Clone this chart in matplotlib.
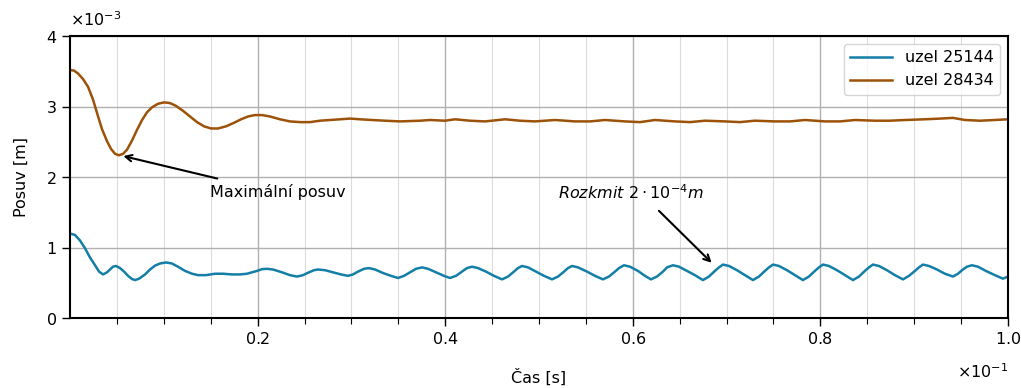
import numpy as np
import matplotlib
matplotlib.use("Agg")
import matplotlib.pyplot as plt
from matplotlib.ticker import ScalarFormatter

# time in ms, displacement in mm
t_25144 = [0.00, 0.53, 1.07, 1.60, 2.13, 2.67, 3.09, 3.52, 3.94, 4.26, 4.58, 4.90,
           5.33, 5.76, 6.18, 6.61, 6.93, 7.36, 8.00, 8.53, 9.06, 9.59, 10.23, 10.87,
           11.51, 12.26, 13.01, 13.65, 14.50, 15.46, 16.31, 17.27, 18.12, 18.87, 19.40,
           19.94, 20.47, 21.00, 21.64, 22.60, 23.45, 24.20, 24.84, 25.48, 26.01, 26.44,
           27.19, 28.04, 28.89, 29.64, 30.17, 30.70, 31.34, 31.88, 32.52, 33.37, 34.22,
           34.97, 35.61, 36.25, 36.89, 37.53, 38.17, 39.02, 39.87, 40.51, 41.15, 41.79,
           42.32, 42.86, 43.50, 44.35, 45.20, 46.06, 46.70, 47.33, 47.76, 48.19, 48.83,
           49.68, 50.53, 51.39, 52.03, 52.67, 53.09, 53.52, 54.16, 55.12, 55.97, 56.82,
           57.46, 58.10, 58.53, 59.06, 59.70, 60.55, 61.30, 61.94, 62.58, 63.22, 63.65,
           64.29, 64.93, 65.78, 66.63, 67.48, 68.12, 68.76, 69.19, 69.62, 70.26, 71.11,
           71.96, 72.81, 73.45, 74.09, 74.52, 74.95, 75.59, 76.44, 77.29, 78.14, 78.78,
           79.42, 79.85, 80.28, 80.92, 81.77, 82.62, 83.48, 84.12, 84.75, 85.18, 85.61,
           86.25, 87.10, 87.95, 88.81, 89.45, 90.09, 90.51, 90.94, 91.58, 92.43, 93.28,
           94.14, 94.67, 95.20, 95.63, 96.16, 96.80, 97.65, 98.61, 99.47, 100.00]
y_25144 = [1.20, 1.18, 1.10, 0.99, 0.86, 0.75, 0.66, 0.62, 0.65, 0.69, 0.73, 0.74,
           0.71, 0.66, 0.60, 0.555, 0.54, 0.56, 0.62, 0.69, 0.745, 0.775, 0.79, 0.775,
           0.73, 0.67, 0.63, 0.61, 0.61, 0.63, 0.63, 0.62, 0.62, 0.63, 0.65,
           0.67, 0.695, 0.70, 0.69, 0.65, 0.61, 0.59, 0.61, 0.65, 0.68, 0.69,
           0.68, 0.65, 0.62, 0.60, 0.62, 0.66, 0.70, 0.71, 0.69, 0.64, 0.60,
           0.57, 0.60, 0.65, 0.70, 0.72, 0.70, 0.65, 0.60, 0.57, 0.60, 0.66,
           0.71, 0.73, 0.71, 0.66, 0.60, 0.55, 0.59, 0.66, 0.71, 0.74, 0.72,
           0.66, 0.60, 0.55, 0.59, 0.66, 0.71, 0.74, 0.72, 0.66, 0.60, 0.55,
           0.59, 0.66, 0.71, 0.75, 0.73, 0.67, 0.60, 0.55, 0.59, 0.66, 0.72,
           0.75, 0.73, 0.67, 0.61, 0.54, 0.59, 0.67, 0.72, 0.76, 0.74, 0.68,
           0.61, 0.54, 0.59, 0.67, 0.72, 0.76, 0.74, 0.68, 0.61, 0.54, 0.59,
           0.67, 0.72, 0.76, 0.74, 0.68, 0.61, 0.54, 0.59, 0.67, 0.72, 0.76,
           0.74, 0.68, 0.61, 0.55, 0.60, 0.67, 0.72, 0.76, 0.74, 0.69, 0.63,
           0.59, 0.63, 0.69, 0.73, 0.75, 0.73, 0.67, 0.61, 0.56, 0.59]

t_28434 = [0.00, 0.43, 0.85, 1.39, 1.92, 2.45, 2.99, 3.41, 3.94, 4.37, 4.80, 5.22,
           5.65, 6.08, 6.61, 7.14, 7.68, 8.21, 8.74, 9.38, 10.02, 10.66, 11.30, 12.05,
           12.79, 13.54, 14.29, 15.03, 15.78, 16.63, 17.48, 18.23, 18.98, 19.72, 20.47,
           21.32, 22.39, 23.45, 24.52, 25.59, 26.65, 27.72, 28.78, 29.85, 30.92, 32.20,
           33.58, 35.18, 37.31, 38.38, 39.98, 41.04, 42.64, 44.24, 46.38, 47.97, 49.57,
           51.71, 53.84, 55.44, 57.04, 59.17, 60.77, 62.37, 64.50, 66.10, 67.70, 69.83,
           71.43, 73.03, 75.16, 76.76, 78.36, 80.49, 82.09, 83.69, 85.82, 87.42, 89.02,
           91.15, 92.75, 94.14, 95.42, 97.01, 98.61, 100.00]
y_28434 = [3.52, 3.51, 3.47, 3.39, 3.28, 3.10, 2.86, 2.68, 2.51, 2.40, 2.33, 2.31,
           2.33, 2.39, 2.52, 2.67, 2.81, 2.92, 2.99, 3.04, 3.06, 3.05, 3.01, 2.94,
           2.86, 2.78, 2.72, 2.69, 2.69, 2.72, 2.77, 2.82, 2.86, 2.88, 2.88,
           2.86, 2.82, 2.79, 2.78, 2.78, 2.80, 2.81, 2.82, 2.83, 2.82, 2.81,
           2.80, 2.79, 2.80, 2.81, 2.80, 2.82, 2.80, 2.79, 2.82, 2.80, 2.79,
           2.81, 2.79, 2.79, 2.81, 2.79, 2.78, 2.81, 2.79, 2.78, 2.80, 2.79,
           2.78, 2.80, 2.79, 2.79, 2.81, 2.79, 2.79, 2.81, 2.80, 2.80, 2.81,
           2.82, 2.83, 2.84, 2.81, 2.80, 2.81, 2.82]

labels = ["uzel 25144", "uzel 28434"]
colors = ["#137fa7", "#9c5208"]

plt.rcParams["font.family"] = ["DejaVu Sans"]
plt.rcParams["mathtext.fontset"] = "dejavusans"
plt.rcParams["font.size"] = 11.5

fig = plt.figure(figsize=(10.21, 3.88), dpi=100)
ax = fig.add_axes([0.0686, 0.180, 0.9186, 0.727])

ax.plot(np.array(t_25144) * 1e-3, np.array(y_25144) * 1e-3, color=colors[0], lw=1.8, label=labels[0])
ax.plot(np.array(t_28434) * 1e-3, np.array(y_28434) * 1e-3, color=colors[1], lw=1.8, label=labels[1])

ax.set_xlim(0, 0.1)
ax.set_ylim(0, 0.004)
ax.set_xticks([0.02, 0.04, 0.06, 0.08, 0.10])
ax.set_xticks(np.arange(1, 20) * 0.005, minor=True)
ax.set_yticks([0, 0.001, 0.002, 0.003, 0.004])

for axis in (ax.xaxis, ax.yaxis):
    fmt = ScalarFormatter(useMathText=True)
    fmt.set_powerlimits((0, 0))
    axis.set_major_formatter(fmt)
# push the x10^n labels a bit further from the axes
ax.xaxis.OFFSETTEXTPAD = 11
ax.yaxis.OFFSETTEXTPAD = 7

ax.grid(which="major", color="#b0b0b0", lw=1.0)
ax.grid(which="minor", axis="x", color="#dcdcdc", lw=0.8)
ax.set_axisbelow(True)
ax.tick_params(which="major", length=6, width=1.0)
ax.tick_params(which="minor", length=4, width=0.8)
for s in ax.spines.values():
    s.set_linewidth(1.5)

ax.set_xlabel("Čas [s]", labelpad=15)
ax.set_ylabel("Posuv [m]", labelpad=12)

ax.annotate("", xy=(0.00568, 0.002298), xytext=(0.0157, 0.00198),
            arrowprops=dict(arrowstyle="->", color="black", lw=1.5, shrinkA=0, shrinkB=0))
ax.text(0.01493, 0.001787, "Maximální posuv", va="center", ha="left")

ax.annotate("", xy=(0.06841, 0.000785), xytext=(0.06279, 0.001522),
            arrowprops=dict(arrowstyle="->", color="black", lw=1.5, shrinkA=0, shrinkB=0))
ax.text(0.05203, 0.001777, r"$Rozkmit\ 2\cdot10^{-4}m$", va="center", ha="left")

ax.legend(loc="upper right", fancybox=True, framealpha=0.8, handlelength=2.6)

fig.savefig("out.png", dpi=100)
